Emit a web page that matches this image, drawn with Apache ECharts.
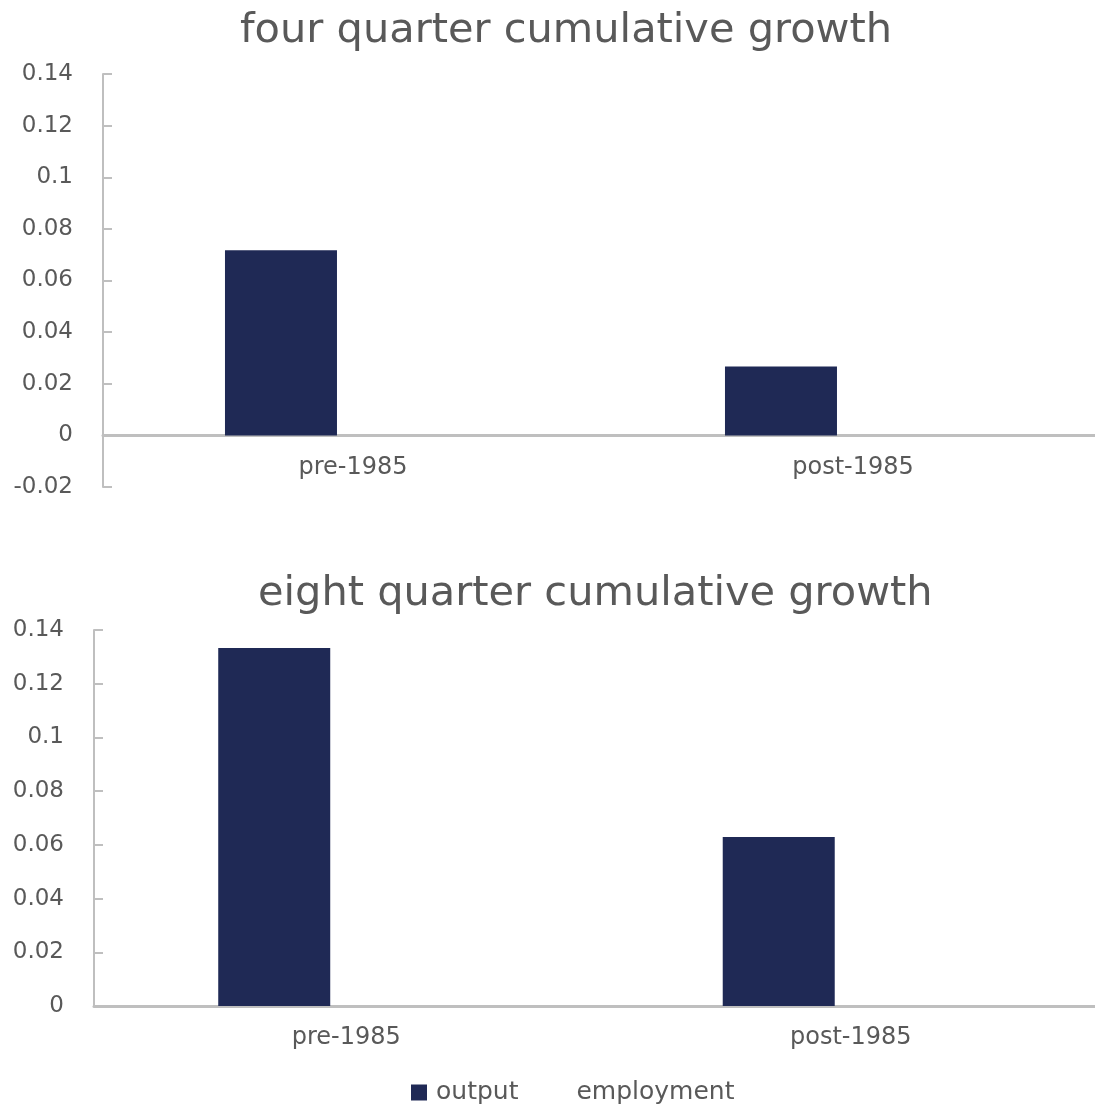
<!DOCTYPE html>
<html>
<head>
<meta charset="utf-8">
<script src="https://cdn.jsdelivr.net/npm/echarts@6/dist/echarts.min.js"></script>
<style>
  html, body { margin: 0; padding: 0; background: #ffffff; }
  #chart { width: 1095px; height: 1108px; }
</style>
</head>
<body>
<div id="chart"></div>
<script>
// Categories and values for the two panels
const categories = ['pre-1985', 'post-1985'];
const seriesNames = ['output', 'employment'];

const fourQuarterOutput = [0.0717, 0.0267];
const fourQuarterEmployment = [0, 0];

const eightQuarterOutput = [0.1333, 0.0629];
const eightQuarterEmployment = [0, 0];

const titles = ['four quarter cumulative growth', 'eight quarter cumulative growth'];

const OUTPUT_COLOR = '#1f2955';
const EMPLOYMENT_COLOR = '#ffffff';
const AXIS_COLOR = '#bfbfbf';
const TEXT_COLOR = '#595959';
const LABEL_FONT = 'DejaVu Sans';

// Plot areas run slightly past the right edge, so the axis line is cut by the canvas
const TOP_GRID = { left: 103, width: 1000, top: 74, height: 413, outerBoundsMode: 'none', containLabel: false };
const BOTTOM_GRID = { left: 94, width: 1009, top: 630, height: 376, outerBoundsMode: 'none', containLabel: false };
const TOP_MIN = -0.02, MAX = 0.14;
// Top panel: the category axis sits on the zero line
const zeroShift = TOP_GRID.height * (0 - TOP_MIN) / (MAX - TOP_MIN);

function fmt(v) {
  const r = Math.round(v * 1000) / 1000;
  return String(r);
}

function valueAxis(gridIndex, min) {
  return {
    type: 'value',
    gridIndex: gridIndex,
    min: min,
    max: MAX,
    interval: 0.02,
    axisLine: { show: true, lineStyle: { color: AXIS_COLOR, width: 2 } },
    axisTick: { show: true, inside: true, length: 9, lineStyle: { color: AXIS_COLOR, width: 2 } },
    splitLine: { show: false },
    axisLabel: {
      color: TEXT_COLOR, fontFamily: LABEL_FONT, fontSize: 23, margin: 30,
      formatter: fmt
    }
  };
}

function categoryAxis(gridIndex, offset) {
  return {
    type: 'category',
    gridIndex: gridIndex,
    data: categories,
    offset: offset,
    axisLine: { show: true, onZero: false, lineStyle: { color: AXIS_COLOR, width: 3 } },
    axisTick: { show: false },
    axisLabel: { color: TEXT_COLOR, fontFamily: LABEL_FONT, fontSize: 24, margin: 20 }
  };
}

function barSeries(name, data, idx, color) {
  return {
    name: name,
    type: 'bar',
    xAxisIndex: idx,
    yAxisIndex: idx,
    data: data,
    barWidth: 112,
    barGap: '28.6%',
    itemStyle: { color: color }
  };
}

const chart = echarts.init(document.getElementById('chart'), null, { renderer: 'canvas' });

const titleStyle = { color: TEXT_COLOR, fontFamily: LABEL_FONT, fontSize: 41.5, fontWeight: 'normal' };

chart.setOption({
  backgroundColor: '#ffffff',
  animation: false,
  title: [
    { text: titles[0], left: 240, top: 10, padding: 0, textStyle: titleStyle },
    { text: titles[1], left: 258, top: 573, padding: 0, textStyle: titleStyle }
  ],
  legend: {
    data: seriesNames,
    left: 411,
    top: 1080,
    padding: 0,
    itemWidth: 16,
    itemHeight: 16,
    itemGap: 33,
    icon: 'rect',
    textStyle: { color: TEXT_COLOR, fontFamily: LABEL_FONT, fontSize: 25, padding: [0, 0, 0, 4] }
  },
  grid: [TOP_GRID, BOTTOM_GRID],
  xAxis: [categoryAxis(0, -zeroShift), categoryAxis(1, 0)],
  yAxis: [valueAxis(0, TOP_MIN), valueAxis(1, 0)],
  series: [
    barSeries(seriesNames[0], fourQuarterOutput, 0, OUTPUT_COLOR),
    barSeries(seriesNames[1], fourQuarterEmployment, 0, EMPLOYMENT_COLOR),
    barSeries(seriesNames[0], eightQuarterOutput, 1, OUTPUT_COLOR),
    barSeries(seriesNames[1], eightQuarterEmployment, 1, EMPLOYMENT_COLOR)
  ]
});
</script>
</body>
</html>
